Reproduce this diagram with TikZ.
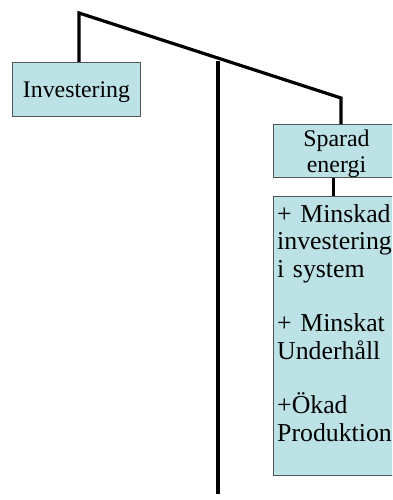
\documentclass[tikz,border=0pt]{standalone}
\usepackage{fontspec}
\setmainfont{Liberation Serif}
\definecolor{boxfill}{RGB}{188,226,229}
\definecolor{boxline}{RGB}{85,85,85}
\tikzset{
  box/.style={draw=boxline, line width=1pt, fill=boxfill, inner sep=0pt, anchor=north west},
  link/.style={line width=3.2pt, line join=miter},
  stem/.style={line width=2.2pt}
}
\begin{document}
\begin{tikzpicture}[x=1pt,y=-1pt]
\useasboundingbox (0,0) rectangle (392,500);
\clip (0,0) rectangle (392,500);

% branch points
\coordinate (apex) at (79,13);
\coordinate (bend) at (341,98);
\coordinate (midtop) at (218,61);
\coordinate (midbot) at (218,494);

% boxes
\node[box, minimum width=128pt, minimum height=54pt,
      font=\fontsize{23.8}{27}\selectfont] (inv) at (12,62) {\rule{0pt}{21.8pt}Investering};
\node[box, minimum width=126pt, minimum height=53pt, align=center,
      font=\fontsize{23.9}{26}\selectfont] (spar) at (273,124) {\rule{0pt}{21.3pt}Sparad\\energi};
\node[box, minimum width=126pt, minimum height=279pt] (list) at (273,196) {};
\node[anchor=north west, inner sep=0pt, text width=118pt, align=left,
      font=\fontsize{25.8}{27.5}\selectfont] (listtext) at ([xshift=4pt,yshift=-8pt]list.north west)
  {+ Minskad\\investering\\i system\\[27pt]+ Minskat\\Underhåll\\[27pt]+Ökad\\Produktion};

% connectors
\draw[link] (inv.north -| apex) -- (apex) -- (bend) -- (bend |- spar.north);
\draw[link] (midtop) -- (midbot);
\draw[stem] ([xshift=-3pt]spar.south) -- ([xshift=-3pt]list.north);
\end{tikzpicture}
\end{document}
